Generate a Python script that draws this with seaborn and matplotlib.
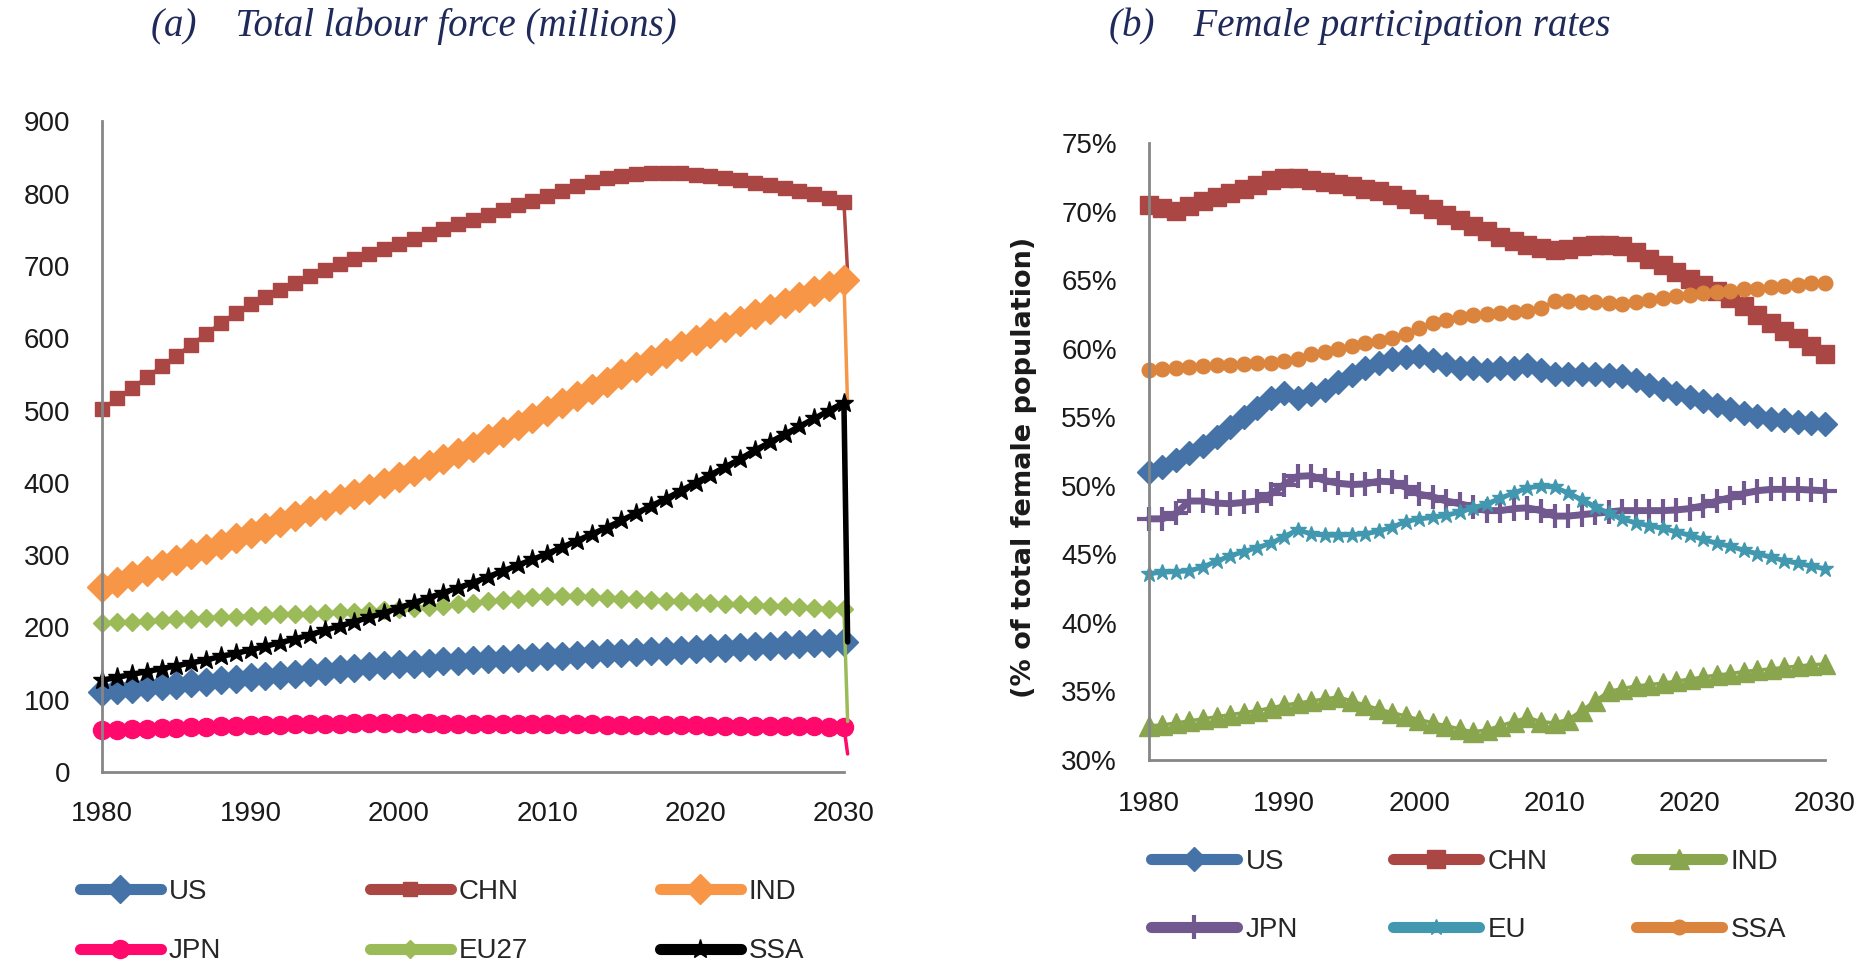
import matplotlib
matplotlib.use("Agg")
import matplotlib.pyplot as plt                      # drawing
import seaborn as sns                                # line plots
from matplotlib.ticker import MultipleLocator, FuncFormatter

# ================================================================ #
# DATA (one value per year)           #
# ================================================================ #
years = list(range(1980, 2031))

# (a) Total labour force, millions
us_lf = [111, 113, 115, 117, 119, 121, 123, 125, 127, 129,
         131, 133, 134, 136, 138, 140, 142, 144, 146, 148,
         149, 150, 151, 153, 154, 155, 156, 157, 158, 159,
         160, 161, 162, 163, 164, 165, 166, 167, 168, 169,
         170, 171, 172, 173, 174, 175, 176, 177, 178, 179, 180]
chn_lf = [502, 517, 531, 546, 561, 576, 591, 606, 621, 635,
          647, 657, 667, 677, 686, 694, 702, 709, 716, 723,
          730, 737, 744, 751, 758, 764, 771, 777, 784, 790,
          797, 804, 810, 816, 821, 825, 827, 828, 828, 828,
          826, 824, 822, 819, 815, 812, 808, 804, 799, 794, 788]
ind_lf = [256, 263, 271, 278, 286, 293, 301, 308, 316, 323,
          331, 338, 346, 354, 361, 369, 377, 385, 392, 400,
          408, 416, 425, 433, 441, 450, 460, 470, 480, 490,
          500, 510, 520, 530, 540, 550, 560, 570, 579, 589,
          598, 607, 616, 624, 633, 641, 649, 657, 665, 672, 680]
jpn_lf = [58, 58.5, 59, 60, 60.5, 61, 62, 62.5, 63, 64,
          64.5, 65, 65.5, 66, 66.5, 67, 67, 67.5, 67.5, 67.5,
          67.5, 67.5, 67.5, 67, 67, 67, 67, 67, 66.5, 66.5,
          66.5, 66, 66, 66, 65.5, 65.5, 65, 65, 65, 64.5,
          64.5, 64, 64, 64, 63.5, 63.5, 63, 63, 63, 62.5, 62.5]
eu27_lf = [206, 207, 208, 209, 210, 211, 212, 213, 214, 215,
           216, 217, 218, 219, 219, 220, 221, 222, 223, 224,
           225, 227, 228, 230, 232, 234, 236, 238, 240, 242,
           243, 243, 243, 242, 241, 240, 239, 238, 237, 236,
           235, 234, 233, 232, 231, 230, 229, 228, 227, 226, 225]
ssa_lf = [127, 131, 135, 139, 143, 147, 151, 155, 160, 164,
          169, 174, 179, 184, 190, 196, 202, 208, 214, 220,
          227, 234, 241, 248, 255, 262, 270, 278, 286, 294,
          302, 311, 320, 329, 338, 348, 358, 368, 378, 389,
          400, 411, 422, 433, 445, 456, 467, 478, 489, 500, 511]

# the spreadsheet had one stray trailing point per series just after 2030
tail_year = 2030.25
tail_lf = [175, 690, 505, 25, 70, 180]               # US, CHN, IND, JPN, EU27, SSA

# (b) Female participation rates, %
us_fp = [51.0, 51.4, 51.9, 52.4, 52.9, 53.6, 54.3, 55.0, 55.7, 56.4,
         56.8, 56.4, 56.7, 57.0, 57.6, 58.1, 58.6, 59.0, 59.3, 59.4,
         59.5, 59.2, 58.9, 58.6, 58.6, 58.5, 58.6, 58.6, 58.8, 58.5,
         58.2, 58.2, 58.2, 58.2, 58.1, 58.0, 57.7, 57.4, 57.1, 56.8,
         56.5, 56.2, 55.9, 55.6, 55.3, 55.1, 54.9, 54.8, 54.7, 54.6, 54.5]
chn_fp = [70.5, 70.3, 70.1, 70.4, 70.8, 71.1, 71.4, 71.7, 72.0, 72.3,
          72.5, 72.45, 72.35, 72.2, 72.05, 71.9, 71.7, 71.5, 71.25, 70.95,
          70.6, 70.2, 69.8, 69.4, 69.0, 68.6, 68.2, 67.9, 67.6, 67.4,
          67.2, 67.3, 67.5, 67.6, 67.6, 67.5, 67.1, 66.6, 66.1, 65.6,
          65.1, 64.7, 64.2, 63.7, 63.1, 62.5, 61.9, 61.3, 60.8, 60.2, 59.6]
ind_fp = [32.5, 32.55, 32.7, 32.85, 33.0, 33.15, 33.3, 33.45, 33.6, 33.8,
          34.0, 34.15, 34.3, 34.45, 34.6, 34.3, 34.0, 33.7, 33.45, 33.2,
          32.95, 32.7, 32.5, 32.25, 32.05, 32.2, 32.5, 32.8, 33.1, 32.8,
          32.7, 32.95, 33.6, 34.3, 35.0, 35.2, 35.4, 35.5, 35.6, 35.75,
          35.9, 36.05, 36.2, 36.3, 36.45, 36.55, 36.65, 36.75, 36.85, 36.95, 37.0]
jpn_fp = [47.6, 47.6, 48.0, 48.9, 48.9, 48.75, 48.7, 48.8, 48.9, 49.4,
          50.1, 50.7, 50.75, 50.4, 50.2, 50.1, 50.15, 50.35, 50.3, 49.9,
          49.4, 49.2, 48.9, 48.7, 48.45, 48.2, 48.2, 48.35, 48.4, 48.2,
          47.8, 47.8, 47.9, 48.0, 48.1, 48.2, 48.2, 48.2, 48.2, 48.25,
          48.35, 48.55, 48.9, 49.15, 49.45, 49.65, 49.75, 49.75, 49.75, 49.7, 49.65]
eu_fp = [43.6, 43.7, 43.75, 43.8, 44.1, 44.5, 44.9, 45.2, 45.5, 45.8,
         46.3, 46.8, 46.5, 46.4, 46.4, 46.45, 46.5, 46.7, 47.0, 47.4,
         47.6, 47.7, 47.85, 48.1, 48.4, 48.7, 49.1, 49.5, 49.85, 50.0,
         49.9, 49.5, 49.0, 48.5, 48.0, 47.6, 47.3, 47.1, 46.9, 46.65,
         46.4, 46.1, 45.8, 45.6, 45.3, 45.05, 44.8, 44.55, 44.35, 44.15, 43.95]
ssa_fp = [58.5, 58.55, 58.6, 58.7, 58.75, 58.8, 58.85, 58.9, 58.95, 59.0,
          59.1, 59.3, 59.6, 59.8, 60.0, 60.2, 60.4, 60.6, 60.8, 61.1,
          61.5, 61.9, 62.1, 62.3, 62.45, 62.55, 62.65, 62.7, 62.8, 63.0,
          63.5, 63.5, 63.45, 63.4, 63.35, 63.3, 63.4, 63.55, 63.7, 63.85,
          63.95, 64.05, 64.15, 64.25, 64.35, 64.4, 64.5, 64.6, 64.7, 64.8, 64.85]

labels_a = ["US", "CHN", "IND", "JPN", "EU27", "SSA"]
labels_b = ["US", "CHN", "IND", "JPN", "EU", "SSA"]

# ================================================================ #
# STYLE                                                            #
# ================================================================ #
sns.set_style("white")
plt.rcParams["font.family"] = ["Liberation Sans", "DejaVu Sans"]

AXIS_GREY = "#868686"
TITLE_BLUE = "#1F2A5A"
TICK_FS = 20

# (colour, marker, markersize, linewidth) per series, Excel 2007 look
style_a = [("#4572A7", "D", 14, 2.5),
           ("#AA4643", "s", 9.5, 2.5),
           ("#F79646", "D", 15.5, 2.5),
           ("#FF0A6C", "o", 13, 2.5),
           ("#9BBB59", "D", 9.5, 2.5),
           ("#000000", "*", 14, 4.0)]
style_b = [("#4572A7", "D", 12.5, 2.5),
           ("#AA4643", "s", 12.5, 2.5),
           ("#89A54E", "^", 14, 2.5),
           ("#71588F", "+", 17, 5.0),
           ("#4198AF", "*", 12, 3.5),
           ("#DB843D", "o", 10.5, 2.5)]


def style_axes(ax):
    sns.despine(ax=ax)
    for side in ("left", "bottom"):
        ax.spines[side].set_color(AXIS_GREY)
        ax.spines[side].set_linewidth(2)
    ax.tick_params(axis="both", which="both", direction="out", length=6,
                   width=1.8, color=AXIS_GREY, labelsize=TICK_FS, labelcolor="#1a1a1a")
    ax.tick_params(axis="y", pad=17)
    ax.set_xlabel("")
    ax.set_ylabel("")


def add_legend(fig, ax, labels, col_x, y0, spacing, hlen):
    # one small legend per column so the columns sit at fixed positions like Excel's
    lines = ax.get_lines()
    for c, x0 in enumerate(col_x):
        leg = fig.legend([lines[c], lines[c + 3]], [labels[c], labels[c + 3]],
                         loc="upper left", bbox_to_anchor=(x0 / 1870, 1 - y0 / 966),
                         frameon=False, fontsize=TICK_FS, handlelength=hlen,
                         handletextpad=0.3, labelspacing=spacing,
                         borderpad=0, borderaxespad=0)
        for h in leg.legend_handles:
            h.set_markevery([1])
            h.set_linewidth(8)
            h.set_solid_capstyle("round")


fig = plt.figure(figsize=(18.7, 9.66), dpi=100)

# ---------------- (a) Total labour force ---------------- #
ax1 = fig.add_axes([0.0547, 0.2008, 0.3966, 0.6736])
series_a = [us_lf, chn_lf, ind_lf, jpn_lf, eu27_lf, ssa_lf]
for vals, tail, lab, (col, mk, ms, lw) in zip(series_a, tail_lf, labels_a, style_a):
    sns.lineplot(x=years + [tail_year], y=vals + [tail], ax=ax1, color=col,
                 marker=mk, markersize=ms, markeredgecolor=col, markeredgewidth=1,
                 linewidth=lw, label=lab, errorbar=None, clip_on=False,
                 markevery=slice(0, len(years)))
ax1.get_legend().remove()
ax1.set_xlim(1980, 2030)
ax1.set_ylim(0, 900)
ax1.xaxis.set_major_locator(MultipleLocator(10))
ax1.xaxis.set_minor_locator(MultipleLocator(5))
ax1.yaxis.set_major_locator(MultipleLocator(100))
style_axes(ax1)
ax1.tick_params(axis="x", pad=15)

# ---------------- (b) Female participation ---------------- #
ax2 = fig.add_axes([0.6144, 0.2133, 0.3615, 0.6382])
series_b = [us_fp, chn_fp, ind_fp, jpn_fp, eu_fp, ssa_fp]
for vals, lab, (col, mk, ms, lw) in zip(series_b, labels_b, style_b):
    sns.lineplot(x=years, y=vals, ax=ax2, color=col, marker=mk, markersize=ms,
                 markeredgecolor=col, markeredgewidth=3 if mk == "+" else 1,
                 linewidth=lw, label=lab, errorbar=None, clip_on=False)
ax2.get_legend().remove()
ax2.set_xlim(1980, 2030)
ax2.set_ylim(30, 75)
ax2.xaxis.set_major_locator(MultipleLocator(10))
ax2.xaxis.set_minor_locator(MultipleLocator(1))
ax2.yaxis.set_major_locator(MultipleLocator(5))
ax2.yaxis.set_major_formatter(FuncFormatter(lambda v, p: f"{v:.0f}%"))
style_axes(ax2)
ax2.tick_params(axis="x", pad=16)
ax2.set_ylabel("(% of total female population)", fontsize=19.5, fontweight="bold",
               family=["DejaVu Sans"], color="#1a1a1a")
ax2.yaxis.set_label_coords(-0.166, 0.474)

# ---------------- titles and legends ---------------- #
title_kw = dict(ha="center", va="center", fontsize=28, style="italic",
                color=TITLE_BLUE, family=["Liberation Serif", "DejaVu Serif"])
fig.text(414 / 1870, 1 - 26 / 966, "(a)    Total labour force (millions)", **title_kw)
fig.text(1360 / 1870, 1 - 26 / 966, "(b)    Female participation rates", **title_kw)

add_legend(fig, ax1, labels_a, [80, 370, 660], 879, 1.2, 2.9)
add_legend(fig, ax2, labels_b, [1151, 1393, 1636], 849, 1.5, 3.1)

fig.savefig("out.png", dpi=100, facecolor="white")
